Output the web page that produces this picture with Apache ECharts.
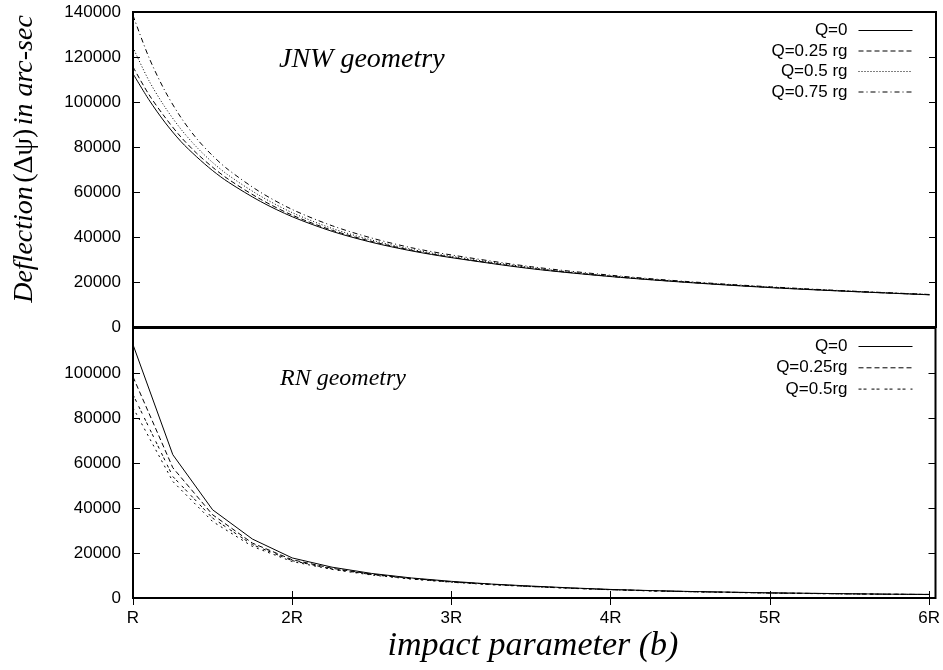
<!DOCTYPE html>
<html>
<head>
<meta charset="utf-8">
<script src="https://cdn.jsdelivr.net/npm/echarts@6/dist/echarts.min.js"></script>
<style>html,body{margin:0;padding:0;background:#fff;}#c{width:943px;height:670px;}</style>
</head>
<body>
<div id="c"></div>
<script>
// ---- Data ----
const xTicks = [1, 2, 3, 4, 5, 6];
const xTickLabels = ['R', '2R', '3R', '4R', '5R', '6R'];

// Top panel: JNW geometry
const bJNW = [1, 1.1, 1.2, 1.3, 1.4, 1.5, 1.6, 1.8, 2, 2.25, 2.5, 2.75, 3, 3.5, 4, 4.5, 5, 5.5, 6];
const jnwQ0    = [112600, 101000, 91000, 82500, 75600, 69500, 64300, 55800, 49000, 42500, 37600, 33800, 30800, 25900, 22400, 19700, 17500, 15800, 14300];
const jnwQ025  = [115600, 103300, 93300, 84500, 77200, 71000, 65600, 56800, 49700, 43000, 38000, 34100, 31000, 26100, 22500, 19800, 17600, 15850, 14350];
const jnwQ05   = [124200, 109500, 97800, 88000, 79900, 73100, 67400, 58200, 50800, 43800, 38600, 34500, 31400, 26400, 22700, 19900, 17700, 15900, 14400];
const jnwQ075  = [138500, 119800, 105000, 93200, 83700, 76100, 69800, 59900, 52200, 45000, 39500, 35200, 32000, 26800, 23000, 20100, 17850, 16000, 14450];
const jnwNames = ['Q=0', 'Q=0.25 rg', 'Q=0.5 rg', 'Q=0.75 rg'];

// Bottom panel: RN geometry
const bRN = [1, 1.25, 1.5, 1.75, 2, 2.25, 2.5, 2.75, 3, 3.25, 3.5, 3.75, 4, 4.25, 4.5, 4.75, 5, 5.25, 5.5, 5.75, 6];
const rnQ0   = [112600, 63700, 39200, 26200, 17800, 13700, 10900, 8900, 7400, 6200, 5300, 4500, 3800, 3300, 2900, 2600, 2300, 2100, 1900, 1700, 1600];
const rnQ025 = [98300, 57900, 37000, 24400, 17000, 13200, 10600, 8700, 7200, 6100, 5200, 4400, 3750, 3250, 2850, 2550, 2250, 2050, 1850, 1680, 1580];
const rnQ05  = [90400, 54000, 35500, 23700, 16600, 12900, 10400, 8500, 7100, 6000, 5100, 4350, 3700, 3200, 2800, 2500, 2200, 2000, 1820, 1660, 1540];
const rnExtra = [84600, 51800, 34000, 22900, 16200, 12700, 10200, 8400, 7000, 5900, 5050, 4300, 3650, 3150, 2780, 2480, 2180, 1980, 1800, 1650, 1520];
const rnNames = ['Q=0', 'Q=0.25rg', 'Q=0.5rg', 'Q=0.75rg'];

const topYTicks = [0, 20000, 40000, 60000, 80000, 100000, 120000, 140000];
const botYTicks = [0, 20000, 40000, 60000, 80000, 100000];

// ---- Chart ----
const pairs = (xs, ys) => xs.map((x, i) => [x, ys[i]]);
const SANS = 'Liberation Sans';
const SERIF = 'Liberation Serif';
const tickFont = { fontFamily: SANS, fontSize: 17, color: '#000' };

const GL = 133, GW = 803;
const grids = [
  { left: GL, top: 12, width: GW, height: 315 },
  { left: GL, top: 328, width: GW, height: 270 }
].map(g => Object.assign(g, { show: true, borderColor: '#000', borderWidth: 2, backgroundColor: 'transparent', containLabel: false }));

function xAx(gridIndex, position, showTicks, showLabels) {
  return {
    type: 'value', gridIndex, position, min: 1, max: 6.04,
    axisLine: { show: false },
    splitLine: { show: false },
    axisTick: { show: showTicks, inside: true, length: 7, customValues: xTicks, lineStyle: { color: '#000', width: 1 } },
    axisLabel: Object.assign({ show: showLabels, margin: 12, customValues: xTicks,
      formatter: v => { const i = xTicks.indexOf(v); return i >= 0 ? xTickLabels[i] : ''; } }, tickFont)
  };
}
function yAx(gridIndex, position, max, ticks, showLabels) {
  return {
    type: 'value', gridIndex, position, min: 0, max: max, interval: 20000,
    axisLine: { show: false },
    splitLine: { show: false },
    axisTick: { show: true, inside: true, length: 7, customValues: ticks, lineStyle: { color: '#000', width: 1 } },
    axisLabel: Object.assign({ show: showLabels, margin: 12, customValues: ticks, formatter: v => String(v) }, tickFont)
  };
}

const xAxis = [
  xAx(0, 'bottom', false, false),
  xAx(1, 'bottom', true, true),
  xAx(1, 'top', true, false)
];
const yAxis = [
  yAx(0, 'left', 140000, topYTicks, true),
  yAx(0, 'right', 140000, topYTicks, false),
  yAx(1, 'left', 120000, botYTicks, true),
  yAx(1, 'right', 120000, botYTicks, false)
];

function line(name, xi, yi, data, type, smooth) {
  return {
    type: 'line', name, xAxisIndex: xi, yAxisIndex: yi, data,
    symbol: 'none', showSymbol: false, smooth: smooth ? 0.3 : false,
    lineStyle: { color: '#000', width: 1, type: type },
    itemStyle: { color: '#000' },
    silent: true, animation: false, z: 3
  };
}

const series = [
  line(jnwNames[0], 0, 0, pairs(bJNW, jnwQ0), 'solid', true),
  line(jnwNames[1], 0, 0, pairs(bJNW, jnwQ025), [5, 3], true),
  line(jnwNames[2], 0, 0, pairs(bJNW, jnwQ05), [1, 2], true),
  line(jnwNames[3], 0, 0, pairs(bJNW, jnwQ075), [5, 3, 1, 3], true),
  line('Q=0 ', 1, 2, pairs(bRN, rnQ0), 'solid', false),
  line(rnNames[1], 1, 2, pairs(bRN, rnQ025), [5, 3], false),
  line(rnNames[2], 1, 2, pairs(bRN, rnQ05), [3, 2, 3, 5], false),
  line(rnNames[3], 1, 2, pairs(bRN, rnExtra), [2, 4], false)
];

const legendCommon = {
  orient: 'vertical', align: 'right', right: 30, padding: 0,
  itemWidth: 54, itemHeight: 14, itemGap: 3.5,
  selectedMode: false,
  textStyle: { fontFamily: SANS, fontSize: 17, color: '#000', padding: [0, 6, 0, 0] },
  itemStyle: { opacity: 0, borderWidth: 0 },
  lineStyle: { width: 1, inactiveWidth: 1 },
  inactiveColor: '#000'
};

const option = {
  animation: false,
  backgroundColor: '#fff',
  grid: grids,
  xAxis, yAxis, series,
  legend: [
    Object.assign({}, legendCommon, { top: 22, data: jnwNames }),
    Object.assign({}, legendCommon, { top: 338, itemGap: 4.3, data: ['Q=0 ', rnNames[1], rnNames[2]],
      formatter: n => n.trim() })
  ],
  graphic: [
    { type: 'text', x: 279, y: 60, style: { text: 'JNW geometry', font: 'italic 28px "Liberation Serif"', fill: '#000', textVerticalAlign: 'middle' } },
    { type: 'text', x: 280, y: 379, style: { text: 'RN geometry', font: 'italic 24px "Liberation Serif"', fill: '#000', textVerticalAlign: 'middle' } },
    { type: 'text', x: 533, y: 646, style: { text: 'impact parameter (b)', font: 'italic 34px "Liberation Serif"', fill: '#000', textAlign: 'center', textVerticalAlign: 'middle' } },
    { type: 'text', x: 25, y: 159, rotation: Math.PI / 2,
      style: { text: '{i|Deflection} {n|(Δψ)} {i|in arc-sec}', textAlign: 'center', textVerticalAlign: 'middle', fill: '#000',
        rich: {
          i: { fontFamily: SERIF, fontStyle: 'italic', fontSize: 28, color: '#000' },
          n: { fontFamily: SERIF, fontStyle: 'normal', fontSize: 28, color: '#000' }
        } } }
  ]
};

const chart = echarts.init(document.getElementById('c'), null, { renderer: 'canvas' });
chart.setOption(option);
</script>
</body>
</html>
